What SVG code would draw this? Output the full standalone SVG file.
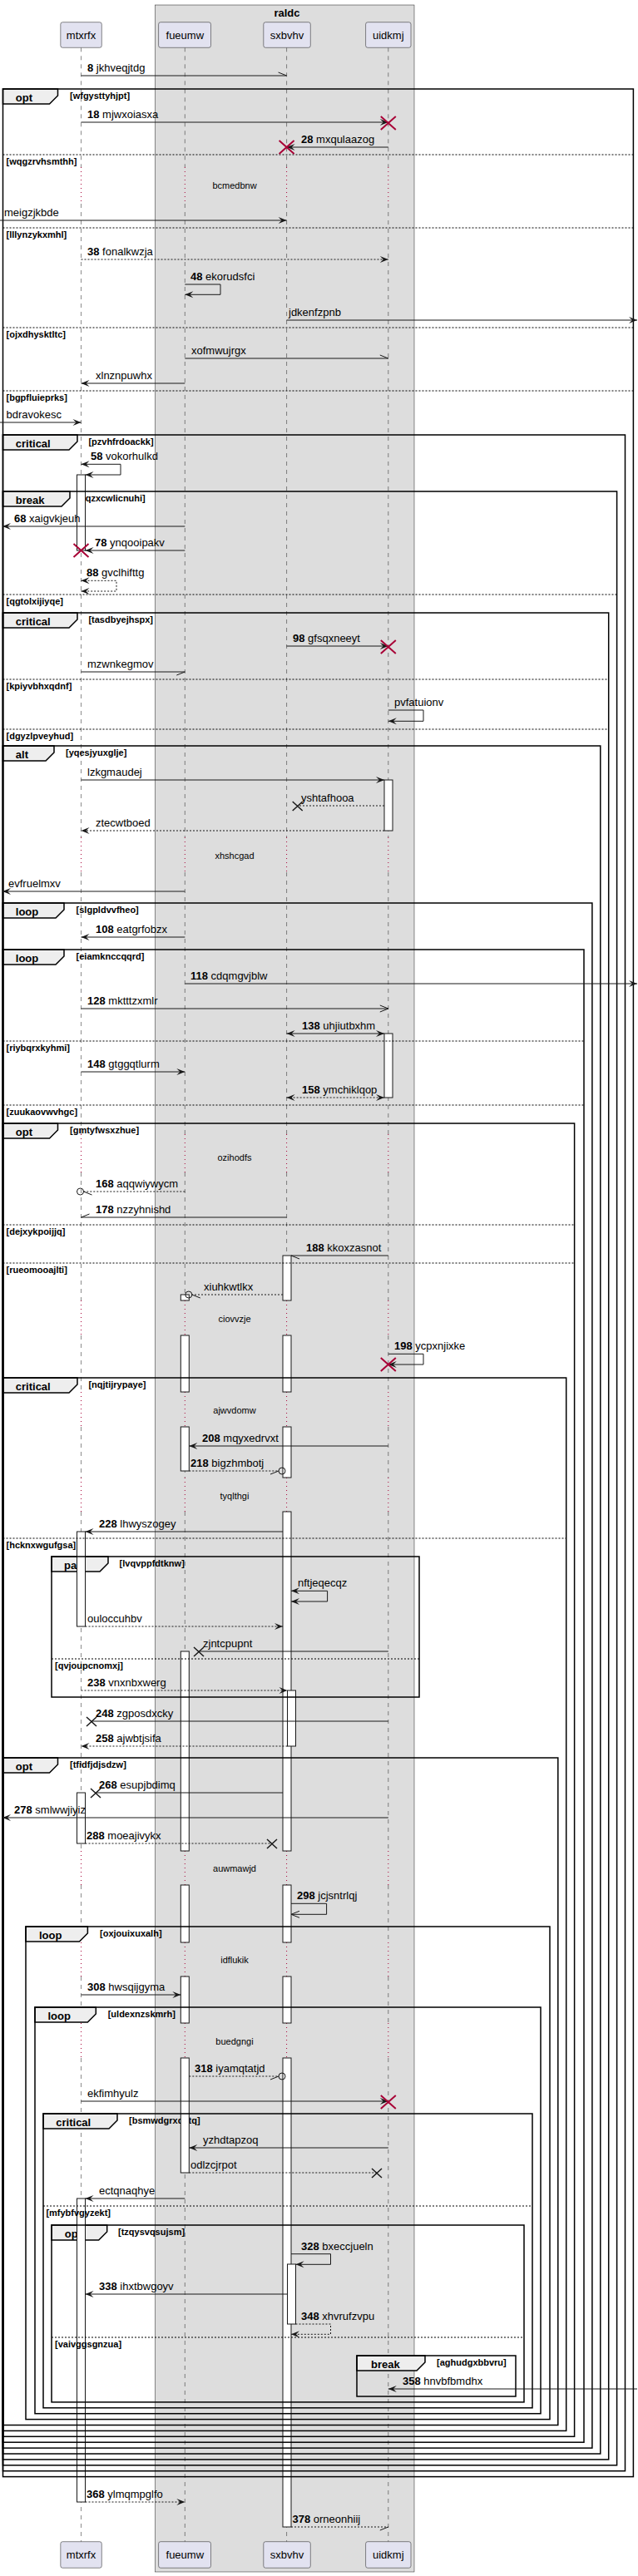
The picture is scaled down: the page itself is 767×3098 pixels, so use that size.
<svg xmlns="http://www.w3.org/2000/svg" xmlns:xlink="http://www.w3.org/1999/xlink" width="767" height="3098" viewBox="0 0 767 3098">
<style>
.pb{fill:#E2E2F0;stroke:#181818;stroke-width:0.5}
.pn{font-family:"Liberation Sans",Arial,sans-serif;font-size:13px;fill:#000;text-anchor:middle}
.ll{fill:none;stroke:#181818;stroke-width:0.5;stroke-dasharray:5,5}
.dl{fill:none;stroke:#A80036;stroke-width:1;stroke-dasharray:1,4}
.act{fill:#FFFFFF;stroke:#181818;stroke-width:1}
.fr{fill:none;stroke:#000;stroke-width:1.5}
.tab{fill:#EEEEEE;stroke:#000;stroke-width:1.5}
.dv{stroke:#000;stroke-width:1;stroke-dasharray:2,2}
.tl{font-family:"Liberation Sans",Arial,sans-serif;font-size:13px;font-weight:bold;fill:#000}
.cd{font-family:"Liberation Sans",Arial,sans-serif;font-size:11px;font-weight:bold;fill:#000}
.m{fill:none;stroke:#181818;stroke-width:1}
.md{fill:none;stroke:#181818;stroke-width:1;stroke-dasharray:2,2}
.ml{font-family:"Liberation Sans",Arial,sans-serif;font-size:13px;fill:#000}
.b{font-weight:bold}
.dt{font-family:"Liberation Sans",Arial,sans-serif;font-size:11px;fill:#000;text-anchor:middle}
.rx{stroke:#A80036;stroke-width:2}
.bx{stroke:#181818;stroke-width:1.5}
.ci{fill:none;stroke:#181818;stroke-width:1}
</style>
<defs>
<marker id="af" markerUnits="userSpaceOnUse" markerWidth="12" markerHeight="10" refX="10" refY="4" orient="auto" overflow="visible"><path d="M0,0 L10,4 L0,8 L4,4 Z" fill="#181818"/></marker>
<marker id="afs" markerUnits="userSpaceOnUse" markerWidth="12" markerHeight="10" refX="10" refY="4" orient="auto-start-reverse" overflow="visible"><path d="M0,0 L10,4 L0,8 L4,4 Z" fill="#181818"/></marker>
<marker id="ao" markerUnits="userSpaceOnUse" markerWidth="12" markerHeight="10" refX="10" refY="4" orient="auto" overflow="visible"><path d="M0,0 L10,4 L0,8" fill="none" stroke="#181818" stroke-width="1"/></marker>
<marker id="hu" markerUnits="userSpaceOnUse" markerWidth="12" markerHeight="10" refX="10" refY="4" orient="auto" overflow="visible"><path d="M0,0 L10,4" fill="none" stroke="#181818" stroke-width="1"/></marker>
<marker id="hl" markerUnits="userSpaceOnUse" markerWidth="12" markerHeight="10" refX="10" refY="4" orient="auto" overflow="visible"><path d="M0,8 L10,4" fill="none" stroke="#181818" stroke-width="1"/></marker>
<path id="lld" d="M0,57.3V201M0,245V1007M0,1049V1364M0,1410V1564M0,1606V1674M0,1716V1777M0,1818V2226M0,2267V2336M0,2377V2433M0,2475V3056.7"/>
<path id="lldot" d="M0,201V245M0,1007V1049M0,1364V1410M0,1564V1606M0,1674V1716M0,1777V1818M0,2226V2267M0,2336V2377M0,2433V2475"/>
</defs>

<g id="box-raldc">
<rect x="186.6" y="6" width="311.4" height="3087" fill="#DDDDDD" stroke="#181818" stroke-width="0.5"/>
<text class="tl" x="345" y="20" text-anchor="middle">raldc</text>
</g>

<g id="mtxrfx">
<use href="#lld" x="97.5" class="ll"/>
<use href="#lldot" x="97.5" class="dl"/>
<rect class="pb" x="72.8" y="26.7" width="49.5" height="30.6" rx="2.5"/>
<text class="pn" x="97.5" y="47">mtxrfx</text>
<rect class="pb" x="72.8" y="3056.7" width="49.5" height="31.6" rx="2.5"/>
<text class="pn" x="97.5" y="3077">mtxrfx</text>
</g>
<g id="fueumw">
<use href="#lld" x="222.3" class="ll"/>
<use href="#lldot" x="222.3" class="dl"/>
<rect class="pb" x="190.6" y="26.7" width="62.9" height="30.6" rx="2.5"/>
<text class="pn" x="222.3" y="47">fueumw</text>
<rect class="pb" x="190.6" y="3056.7" width="62.9" height="31.6" rx="2.5"/>
<text class="pn" x="222.3" y="3077">fueumw</text>
</g>
<g id="sxbvhv">
<use href="#lld" x="344.6" class="ll"/>
<use href="#lldot" x="344.6" class="dl"/>
<rect class="pb" x="316.8" y="26.7" width="56.5" height="30.6" rx="2.5"/>
<text class="pn" x="345" y="47">sxbvhv</text>
<rect class="pb" x="316.8" y="3056.7" width="56.5" height="31.6" rx="2.5"/>
<text class="pn" x="345" y="3077">sxbvhv</text>
</g>
<g id="uidkmj">
<use href="#lld" x="466.8" class="ll"/>
<use href="#lldot" x="466.8" class="dl"/>
<rect class="pb" x="439.6" y="26.7" width="54.4" height="30.6" rx="2.5"/>
<text class="pn" x="466.8" y="47">uidkmj</text>
<rect class="pb" x="439.6" y="3056.7" width="54.4" height="31.6" rx="2.5"/>
<text class="pn" x="466.8" y="3077">uidkmj</text>
</g>

<g id="frame-tabs">
<polygon class="tab" points="3.5,107 69.5,107 69.5,115 59.5,125 3.5,125"/>
<text class="tl" x="18.8" y="122">opt</text>
<text class="cd" x="84" y="119">[wfgysttyhjpt]</text>
<polygon class="tab" points="3.5,523 93,523 93,531 83,541 3.5,541"/>
<text class="tl" x="18.8" y="538">critical</text>
<text class="cd" x="106.4" y="535">[pzvhfrdoackk]</text>
<polygon class="tab" points="3.5,591 84,591 84,599 74,609 3.5,609"/>
<text class="tl" x="18.8" y="606">break</text>
<text class="cd" x="99" y="603">[qzxcwlicnuhi]</text>
<polygon class="tab" points="3.5,737 93,737 93,745 83,755 3.5,755"/>
<text class="tl" x="18.8" y="752">critical</text>
<text class="cd" x="106.4" y="749">[tasdbyejhspx]</text>
<polygon class="tab" points="3.5,897 65,897 65,905 55,915 3.5,915"/>
<text class="tl" x="18.8" y="912">alt</text>
<text class="cd" x="79" y="909">[yqesjyuxglje]</text>
<polygon class="tab" points="3.5,1086 77,1086 77,1094 67,1104 3.5,1104"/>
<text class="tl" x="18.8" y="1101">loop</text>
<text class="cd" x="91.6" y="1098">[slgpldvvfheo]</text>
<polygon class="tab" points="3.5,1142 77,1142 77,1150 67,1160 3.5,1160"/>
<text class="tl" x="18.8" y="1157">loop</text>
<text class="cd" x="91.6" y="1154">[eiamknccqqrd]</text>
<polygon class="tab" points="3.5,1351 69.5,1351 69.5,1359 59.5,1369 3.5,1369"/>
<text class="tl" x="18.8" y="1366">opt</text>
<text class="cd" x="84" y="1363">[gmtyfwsxzhue]</text>
<polygon class="tab" points="3.5,1657 93,1657 93,1665 83,1675 3.5,1675"/>
<text class="tl" x="18.8" y="1672">critical</text>
<text class="cd" x="106.4" y="1669">[nqjtijrypaye]</text>
<polygon class="tab" points="62,1872 130,1872 130,1880 120,1890 62,1890"/>
<text class="tl" x="77" y="1887">par</text>
<text class="cd" x="143.6" y="1884">[lvqvppfdtknw]</text>
<polygon class="tab" points="3.5,2114 69.5,2114 69.5,2122 59.5,2132 3.5,2132"/>
<text class="tl" x="18.8" y="2129">opt</text>
<text class="cd" x="84" y="2126">[tfidfjdjsdzw]</text>
<polygon class="tab" points="31,2317 105.4,2317 105.4,2325 95.4,2335 31,2335"/>
<text class="tl" x="47" y="2332">loop</text>
<text class="cd" x="120" y="2329">[oxjouixuxalh]</text>
<polygon class="tab" points="42,2414 115.3,2414 115.3,2422 105.3,2432 42,2432"/>
<text class="tl" x="57.4" y="2429">loop</text>
<text class="cd" x="129.7" y="2426">[uldexnzskmrh]</text>
<polygon class="tab" points="52,2542 141,2542 141,2550 131,2560 52,2560"/>
<text class="tl" x="67.3" y="2557">critical</text>
<text class="cd" x="155" y="2554">[bsmwdgrxdatq]</text>
<polygon class="tab" points="62,2676 128.7,2676 128.7,2684 118.7,2694 62,2694"/>
<text class="tl" x="77.7" y="2691">opt</text>
<text class="cd" x="142" y="2688">[tzqysvqsujsm]</text>
<polygon class="tab" points="429,2833 511,2833 511,2841 501,2851 429,2851"/>
<text class="tl" x="446" y="2848">break</text>
<text class="cd" x="525" y="2845">[aghudgxbbvru]</text>
</g>

<g id="activations">
<rect class="act" x="92.5" y="571" width="10" height="91"/>
<rect class="act" x="462" y="938" width="10" height="61"/>
<rect class="act" x="462" y="1243" width="10" height="77"/>
<rect class="act" x="340" y="1510" width="10" height="54"/>
<rect class="act" x="340" y="1606" width="10" height="68"/>
<rect class="act" x="340" y="1716" width="10" height="61"/>
<rect class="act" x="340" y="1818" width="10" height="408"/>
<rect class="act" x="340" y="2267" width="10" height="69"/>
<rect class="act" x="340" y="2377" width="10" height="56"/>
<rect class="act" x="340" y="2475" width="10" height="564"/>
<rect class="act" x="217.3" y="1557" width="10" height="7"/>
<rect class="act" x="217.3" y="1606" width="10" height="68"/>
<rect class="act" x="217.3" y="1716" width="10" height="53"/>
<rect class="act" x="92.5" y="1842" width="10" height="114"/>
<rect class="act" x="217.3" y="1986" width="10" height="240"/>
<rect class="act" x="217.3" y="2267" width="10" height="69"/>
<rect class="act" x="217.3" y="2377" width="10" height="56"/>
<rect class="act" x="217.3" y="2475" width="10" height="138"/>
<rect class="act" x="345.5" y="2033" width="10" height="67"/>
<rect class="act" x="92.5" y="2156" width="10" height="61"/>
<rect class="act" x="92.5" y="2644" width="10" height="365"/>
<rect class="act" x="345.5" y="2723" width="10" height="72"/>
</g>

<g id="frames">
<rect class="fr" x="3.5" y="107" width="757.9" height="2871.6"/>
<line class="dv" x1="3.5" y1="186" x2="761.4" y2="186"/>
<text class="cd" x="7.5" y="198">[wqgzrvhsmthh]</text>
<line class="dv" x1="3.5" y1="274" x2="761.4" y2="274"/>
<text class="cd" x="7.5" y="286">[lllynzykxmhl]</text>
<line class="dv" x1="3.5" y1="394" x2="761.4" y2="394"/>
<text class="cd" x="7.5" y="406">[ojxdhysktltc]</text>
<line class="dv" x1="3.5" y1="470" x2="761.4" y2="470"/>
<text class="cd" x="7.5" y="482">[bgpfluieprks]</text>
<rect class="fr" x="3.5" y="523" width="748" height="2448.7"/>
<rect class="fr" x="3.5" y="591" width="738.1" height="2373.8"/>
<line class="dv" x1="3.5" y1="715" x2="741.6" y2="715"/>
<text class="cd" x="7.5" y="727">[qgtolxijiyqe]</text>
<rect class="fr" x="3.5" y="737" width="728.2" height="2220.9"/>
<line class="dv" x1="3.5" y1="817" x2="731.7" y2="817"/>
<text class="cd" x="7.5" y="829">[kpiyvbhxqdnf]</text>
<line class="dv" x1="3.5" y1="877" x2="731.7" y2="877"/>
<text class="cd" x="7.5" y="889">[dgyzlpveyhud]</text>
<rect class="fr" x="3.5" y="897" width="718.3" height="2054"/>
<rect class="fr" x="3.5" y="1086" width="708.4" height="1858.1"/>
<rect class="fr" x="3.5" y="1142" width="698.5" height="1795.2"/>
<line class="dv" x1="3.5" y1="1252" x2="702" y2="1252"/>
<text class="cd" x="7.5" y="1264">[riybqrxkyhmi]</text>
<line class="dv" x1="3.5" y1="1329" x2="702" y2="1329"/>
<text class="cd" x="7.5" y="1341">[zuukaovwvhgc]</text>
<rect class="fr" x="3.5" y="1351" width="687.1" height="1579.3"/>
<line class="dv" x1="3.5" y1="1473" x2="690.6" y2="1473"/>
<text class="cd" x="7.5" y="1485">[dejxykpoijjq]</text>
<line class="dv" x1="3.5" y1="1519" x2="690.6" y2="1519"/>
<text class="cd" x="7.5" y="1531">[rueomooajlti]</text>
<rect class="fr" x="3.5" y="1657" width="677.2" height="1266.4"/>
<line class="dv" x1="3.5" y1="1850" x2="680.7" y2="1850"/>
<text class="cd" x="7.5" y="1862">[hcknxwgufgsa]</text>
<rect class="fr" x="62" y="1872" width="442" height="169"/>
<line class="dv" x1="62" y1="1995" x2="504" y2="1995"/>
<text class="cd" x="66" y="2007">[qvjoupcnomxj]</text>
<rect class="fr" x="3.5" y="2114" width="667.3" height="802.5"/>
<rect class="fr" x="31" y="2317" width="630" height="592.6"/>
<rect class="fr" x="42" y="2414" width="608" height="488.7"/>
<rect class="fr" x="52" y="2542" width="588" height="353.8"/>
<line class="dv" x1="52" y1="2653" x2="640" y2="2653"/>
<text class="cd" x="55.4" y="2665">[mfybfvgyzekt]</text>
<rect class="fr" x="62" y="2676" width="568" height="212.9"/>
<line class="dv" x1="62" y1="2811" x2="630" y2="2811"/>
<text class="cd" x="66" y="2823">[vaivggsgnzua]</text>
<rect class="fr" x="429" y="2833" width="191" height="49"/>
</g>

<g id="delays">
<text class="dt" x="282" y="227">bcmedbnw</text>
<text class="dt" x="282" y="1033">xhshcgad</text>
<text class="dt" x="282" y="1396">ozihodfs</text>
<text class="dt" x="282" y="1590">ciovvzje</text>
<text class="dt" x="282" y="1700">ajwvdomw</text>
<text class="dt" x="282" y="1803">tyqlthgi</text>
<text class="dt" x="282" y="2251">auwmawjd</text>
<text class="dt" x="282" y="2361">idflukik</text>
<text class="dt" x="282" y="2459">buedgngi</text>
</g>

<g id="connectors">
<line class="m" x1="97.5" y1="91" x2="344.6" y2="91" marker-end="url(#hu)"/>
<text class="ml" x="105" y="86"><tspan class="b">8</tspan> jkhveqjtdg</text>

<line class="m" x1="97.5" y1="147" x2="466.8" y2="147" marker-end="url(#af)"/>
<text class="ml" x="105" y="142"><tspan class="b">18</tspan> mjwxoiasxa</text>
<path class="rx" d="M457.8,140 L475.8,156 M457.8,156 L475.8,140"/>

<line class="m" x1="466.8" y1="177" x2="344.6" y2="177" marker-end="url(#af)"/>
<text class="ml" x="362" y="172"><tspan class="b">28</tspan> mxqulaazog</text>
<path class="rx" d="M335.6,169 L353.6,185 M335.6,185 L353.6,169"/>

<line class="m" x1="0" y1="265" x2="344.6" y2="265" marker-end="url(#af)"/>
<text class="ml" x="5" y="260">meigzjkbde</text>

<line class="md" x1="97.5" y1="312" x2="466.8" y2="312" marker-end="url(#af)"/>
<text class="ml" x="105" y="307"><tspan class="b">38</tspan> fonalkwzja</text>

<path class="m" d="M222.3,342 H265 V354.3 H222.3" marker-end="url(#af)"/>
<text class="ml" x="229" y="337"><tspan class="b">48</tspan> ekorudsfci</text>

<line class="m" x1="344.6" y1="385" x2="766" y2="385" marker-end="url(#af)"/>
<text class="ml" x="347" y="380">jdkenfzpnb</text>

<line class="m" x1="222.3" y1="431" x2="466.8" y2="431" marker-end="url(#hu)"/>
<text class="ml" x="230" y="426">xofmwujrgx</text>

<line class="m" x1="222.3" y1="461" x2="97.5" y2="461" marker-end="url(#af)"/>
<text class="ml" x="115" y="456">xlnznpuwhx</text>

<line class="m" x1="0" y1="508" x2="97.5" y2="508" marker-end="url(#af)"/>
<text class="ml" x="7.5" y="503">bdravokesc</text>

<path class="m" d="M97.5,558.3 H145 V571 H102.5" marker-start="url(#afs)" marker-end="url(#af)"/>
<text class="ml" x="109" y="553"><tspan class="b">58</tspan> vokorhulkd</text>

<line class="m" x1="222.3" y1="633" x2="3" y2="633" marker-end="url(#af)"/>
<text class="ml" x="17" y="628"><tspan class="b">68</tspan> xaigvkjeuh</text>

<line class="m" x1="222.3" y1="662" x2="102.5" y2="662" marker-end="url(#af)"/>
<text class="ml" x="114" y="657"><tspan class="b">78</tspan> ynqooipakv</text>
<path class="rx" d="M88.5,654 L106.5,670 M88.5,670 L106.5,654"/>

<path class="md" d="M97.5,698.3 H140 V711 H97.5" marker-start="url(#afs)" marker-end="url(#af)"/>
<text class="ml" x="104" y="693"><tspan class="b">88</tspan> gvclhifttg</text>

<line class="m" x1="344.6" y1="777" x2="466.8" y2="777" marker-end="url(#af)"/>
<text class="ml" x="352" y="772"><tspan class="b">98</tspan> gfsqxneeyt</text>
<path class="rx" d="M457.8,770 L475.8,786 M457.8,786 L475.8,770"/>

<line class="m" x1="97.5" y1="808" x2="222.3" y2="808" marker-end="url(#hl)"/>
<text class="ml" x="105" y="803">mzwnkegmov</text>

<path class="m" d="M466.8,854 H509 V867.3 H466.8" marker-end="url(#af)"/>
<text class="ml" x="474" y="849">pvfatuionv</text>

<line class="m" x1="97.5" y1="938" x2="462" y2="938" marker-end="url(#af)"/>
<text class="ml" x="105" y="933">lzkgmaudej</text>

<line class="md" x1="462" y1="969" x2="357.7" y2="969"/>
<path class="bx" d="M351.7,964 L363.7,975 M351.7,975 L363.7,964"/>
<text class="ml" x="362" y="964">yshtafhooa</text>

<line class="md" x1="462" y1="999" x2="97.5" y2="999" marker-end="url(#af)"/>
<text class="ml" x="115" y="994">ztecwtboed</text>

<line class="m" x1="222.3" y1="1072" x2="3" y2="1072" marker-end="url(#af)"/>
<text class="ml" x="10" y="1067">evfruelmxv</text>

<line class="m" x1="222.3" y1="1127" x2="97.5" y2="1127" marker-end="url(#af)"/>
<text class="ml" x="115" y="1122"><tspan class="b">108</tspan> eatgrfobzx</text>

<line class="m" x1="222.3" y1="1183" x2="766" y2="1183" marker-end="url(#af)"/>
<text class="ml" x="229" y="1178"><tspan class="b">118</tspan> cdqmgvjblw</text>

<line class="m" x1="97.5" y1="1213" x2="466.8" y2="1213" marker-end="url(#ao)"/>
<text class="ml" x="105" y="1208"><tspan class="b">128</tspan> mktttzxmlr</text>

<line class="m" x1="344.6" y1="1243" x2="462" y2="1243" marker-start="url(#afs)" marker-end="url(#af)"/>
<text class="ml" x="363" y="1238"><tspan class="b">138</tspan> uhjiutbxhm</text>

<line class="m" x1="97.5" y1="1289" x2="222.3" y2="1289" marker-end="url(#af)"/>
<text class="ml" x="105" y="1284"><tspan class="b">148</tspan> gtggqtlurm</text>

<line class="md" x1="344.6" y1="1320" x2="462" y2="1320" marker-start="url(#afs)" marker-end="url(#af)"/>
<text class="ml" x="363" y="1315"><tspan class="b">158</tspan> ymchiklqop</text>

<line class="md" x1="222.3" y1="1433" x2="100.5" y2="1433" marker-end="url(#hu)"/>
<circle class="ci" cx="96.5" cy="1433" r="4"/>
<text class="ml" x="115" y="1428"><tspan class="b">168</tspan> aqqwiywycm</text>

<line class="m" x1="344.6" y1="1464" x2="97.5" y2="1464" marker-end="url(#hl)"/>
<text class="ml" x="115" y="1459"><tspan class="b">178</tspan> nzzyhnishd</text>

<line class="m" x1="466.8" y1="1510" x2="350" y2="1510" marker-end="url(#hu)"/>
<text class="ml" x="368" y="1505"><tspan class="b">188</tspan> kkoxzasnot</text>

<line class="md" x1="340" y1="1557" x2="230.8" y2="1557" marker-end="url(#hu)"/>
<circle class="ci" cx="226.8" cy="1557" r="4"/>
<text class="ml" x="245" y="1552">xiuhkwtlkx</text>

<path class="m" d="M466.8,1628.3 H509 V1641 H466.8" marker-end="url(#af)"/>
<text class="ml" x="474" y="1623"><tspan class="b">198</tspan> ycpxnjixke</text>
<path class="rx" d="M457.8,1633 L475.8,1649 M457.8,1649 L475.8,1633"/>

<line class="m" x1="466.8" y1="1739" x2="227.3" y2="1739" marker-end="url(#af)"/>
<text class="ml" x="243" y="1734"><tspan class="b">208</tspan> mqyxedrvxt</text>

<line class="md" x1="227.3" y1="1769" x2="335" y2="1769" marker-end="url(#hl)"/>
<circle class="ci" cx="339" cy="1769" r="4"/>
<text class="ml" x="229" y="1764"><tspan class="b">218</tspan> bigzhmbotj</text>

<line class="m" x1="340" y1="1842" x2="102.5" y2="1842" marker-end="url(#af)"/>
<text class="ml" x="119" y="1837"><tspan class="b">228</tspan> lhwyszogey</text>

<path class="m" d="M350,1913.3 H393.6 V1926 H350" marker-start="url(#afs)" marker-end="url(#af)"/>
<text class="ml" x="358" y="1908">nftjeqecqz</text>

<line class="md" x1="102.5" y1="1956" x2="340" y2="1956" marker-end="url(#af)"/>
<text class="ml" x="105" y="1951">ouloccuhbv</text>

<line class="m" x1="466.8" y1="1986" x2="239" y2="1986"/>
<path class="bx" d="M233,1981 L245,1992 M233,1992 L245,1981"/>
<text class="ml" x="244" y="1981">zjntcpupnt</text>

<line class="md" x1="97.5" y1="2033" x2="345.5" y2="2033" marker-end="url(#af)"/>
<text class="ml" x="105" y="2028"><tspan class="b">238</tspan> vnxnbxwerg</text>

<line class="m" x1="466.8" y1="2070" x2="110" y2="2070"/>
<path class="bx" d="M104,2065 L116,2076 M104,2076 L116,2065"/>
<text class="ml" x="115" y="2065"><tspan class="b">248</tspan> zgposdxcky</text>

<line class="md" x1="345.5" y1="2100" x2="97.5" y2="2100" marker-end="url(#af)"/>
<text class="ml" x="115" y="2095"><tspan class="b">258</tspan> ajwbtjsifa</text>

<line class="m" x1="340" y1="2156" x2="115" y2="2156"/>
<path class="bx" d="M109,2151 L121,2162 M109,2162 L121,2151"/>
<text class="ml" x="119" y="2151"><tspan class="b">268</tspan> esupjbdimq</text>

<line class="m" x1="466.8" y1="2186" x2="3" y2="2186" marker-end="url(#af)"/>
<text class="ml" x="17" y="2181"><tspan class="b">278</tspan> smlwwjiyiz</text>

<line class="md" x1="102.5" y1="2217" x2="327" y2="2217"/>
<path class="bx" d="M321,2212 L333,2223 M321,2223 L333,2212"/>
<text class="ml" x="104" y="2212"><tspan class="b">288</tspan> moeajivykx</text>

<path class="m" d="M350,2289.3 H392.6 V2302.3 H350" marker-end="url(#ao)"/>
<text class="ml" x="357" y="2284"><tspan class="b">298</tspan> jcjsntrlqj</text>

<line class="m" x1="97.5" y1="2399" x2="217.3" y2="2399" marker-end="url(#af)"/>
<text class="ml" x="105" y="2394"><tspan class="b">308</tspan> hwsqijgyma</text>

<line class="md" x1="227.3" y1="2497" x2="335" y2="2497" marker-end="url(#hl)"/>
<circle class="ci" cx="339" cy="2497" r="4"/>
<text class="ml" x="234" y="2492"><tspan class="b">318</tspan> iyamqtatjd</text>

<line class="m" x1="97.5" y1="2527" x2="466.8" y2="2527" marker-end="url(#af)"/>
<text class="ml" x="105" y="2522">ekfimhyulz</text>
<path class="rx" d="M457.8,2520 L475.8,2536 M457.8,2536 L475.8,2520"/>

<line class="m" x1="466.8" y1="2583" x2="227.3" y2="2583" marker-end="url(#af)"/>
<text class="ml" x="244" y="2578">yzhdtapzoq</text>

<line class="md" x1="227.3" y1="2613" x2="453" y2="2613"/>
<path class="bx" d="M447,2608 L459,2619 M447,2619 L459,2608"/>
<text class="ml" x="229" y="2608">odlzcjrpot</text>

<line class="m" x1="222.3" y1="2644" x2="102.5" y2="2644" marker-end="url(#af)"/>
<text class="ml" x="119" y="2639">ectqnaqhye</text>

<path class="m" d="M350,2710.7 H397.5 V2723.3 H355.5" marker-end="url(#af)"/>
<text class="ml" x="362" y="2706"><tspan class="b">328</tspan> bxeccjueln</text>

<line class="m" x1="345.5" y1="2759" x2="102.5" y2="2759" marker-end="url(#af)"/>
<text class="ml" x="119" y="2754"><tspan class="b">338</tspan> ihxtbwgoyv</text>

<path class="md" d="M355.5,2795 H397.5 V2807.3 H350" marker-end="url(#af)"/>
<text class="ml" x="362" y="2790"><tspan class="b">348</tspan> xhvrufzvpu</text>

<line class="m" x1="766" y1="2873" x2="466.8" y2="2873" marker-end="url(#af)"/>
<text class="ml" x="484" y="2868"><tspan class="b">358</tspan> hnvbfbmdhx</text>

<line class="md" x1="102.5" y1="3009" x2="222.3" y2="3009" marker-end="url(#af)"/>
<text class="ml" x="104" y="3004"><tspan class="b">368</tspan> ylmqmpglfo</text>

<line class="md" x1="350" y1="3039" x2="466.8" y2="3039" marker-end="url(#hl)"/>
<text class="ml" x="351.5" y="3034"><tspan class="b">378</tspan> orneonhiij</text>
</g>
</svg>
